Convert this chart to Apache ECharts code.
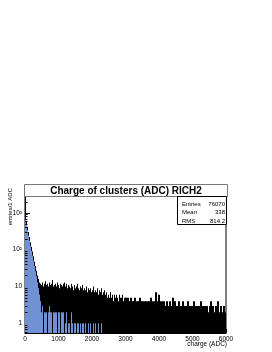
<!DOCTYPE html>
<html><head><meta charset="utf-8">
<script src="https://cdn.jsdelivr.net/npm/echarts@6/dist/echarts.min.js"></script>
<style>html,body{margin:0;padding:0;background:#fff}#c{width:272px;height:352px}</style>
</head><body><div id="c"></div>
<script>
// Histogram summarised per 30-ADC column: highest and lowest bin content in each column (0 = an empty bin)
const binWidth = 30;
const colMax = [
  900,600,420,300,220,160,120,90,66,48,36,27,20,16,13,12,11,13,10,12,
  14,11,12,10,13,11,12,15,10,11,12,10,13,11,9,12,11,10,12,13,
  10,12,9,11,10,9,12,10,8,11,9,10,12,9,8,10,9,11,8,9,
  8,10,7,9,8,9,7,8,10,7,8,7,9,6,8,7,9,6,7,8,
  6,7,5,6,5,7,5,6,4,6,5,6,5,4,6,5,5,6,4,5,
  5,4,5,4,4,5,3,4,4,5,4,3,4,4,5,3,4,4,3,4,
  4,3,4,4,3,5,4,3,4,3,7,4,3,6,4,3,4,3,4,3,
  3,4,3,3,4,3,3,5,3,4,3,3,3,4,3,3,3,4,3,3,
  3,3,4,3,3,2,3,3,4,3,3,3,2,3,3,4,3,2,3,3,
  2,3,2,2,3,4,2,3,2,2,3,2,4,2,2,3,2,2,3,2
];
const colMin = [
  700,480,340,240,175,125,92,68,50,36,26,19,13,9,6,4,2,3,0,2,
  2,2,0,2,3,2,2,0,2,2,2,2,0,2,2,0,2,2,2,0,
  1,2,0,1,1,0,2,1,0,1,1,0,1,1,0,1,0,1,1,0,
  1,0,0,1,0,1,0,0,1,0,1,0,0,1,0,0,1,0,0,0,
  0,0,0,0,0,0,0,0,0,0,0,0,0,0,0,0,0,0,0,0,
  0,0,0,0,0,0,0,0,0,0,0,0,0,0,0,0,0,0,0,0,
  0,0,0,0,0,0,0,0,0,0,0,0,0,0,0,0,0,0,0,0,
  0,0,0,0,0,0,0,0,0,0,0,0,0,0,0,0,0,0,0,0,
  0,0,0,0,0,0,0,0,0,0,0,0,0,0,0,0,0,0,0,0,
  0,0,0,0,0,0,0,0,0,0,0,0,0,0,0,0,0,0,0,0
];
const xMin = 0, xMax = 6000, xStep = 1000;
const yMin = 0.553, yMax = 5660;
const yTickValues = [1, 10, 100, 1000];
const yTickLabels = ['1', '10', '10\u00b2', '10\u00b3'];
const titleText = 'Charge of clusters (ADC) RICH2';
const statLabels = ['Entries', 'Mean', 'RMS'];
const statValues = ['76070', '338', '814.2'];
const xTitle = 'charge (ADC)';
const yTitle = 'entries/1 ADC';

const FONT = 'Liberation Sans, Arial, Helvetica, sans-serif';
const FILL = 'rgb(112,146,212)';

const histData = colMax.map((m, i) => [i * binWidth, colMin[i], m]);
const minorY = [];
for (let e = -1; e <= 3; e++) for (let k = 2; k <= 9; k++) {
  const v = k * Math.pow(10, e);
  if (v > yMin && v < yMax) minorY.push([0, v]);
}

const chart = echarts.init(document.getElementById('c'), null, {renderer: 'canvas'});
chart.setOption({
  animation: false,
  backgroundColor: '#fff',
  grid: {left: 25, right: 46, top: 185, bottom: 19, show: true, borderColor: '#000', borderWidth: 1, backgroundColor: 'transparent'},
  xAxis: {
    type: 'value', min: xMin, max: xMax, interval: xStep,
    axisLine: {show: true, onZero: false, lineStyle: {color: '#000', width: 1}},
    axisTick: {show: true, inside: true, length: 4, lineStyle: {color: '#000'}},
    minorTick: {show: true, splitNumber: 5, length: 2, lineStyle: {color: '#000'}},
    splitLine: {show: false},
    axisLabel: {fontSize: 6.5, color: '#000', fontFamily: FONT, margin: 3, formatter: function (v) { return String(v); }}
  },
  yAxis: {
    type: 'log', logBase: 10, min: yMin, max: yMax,
    axisLine: {show: true, lineStyle: {color: '#000', width: 1}},
    axisTick: {show: true, inside: true, length: 5, lineStyle: {color: '#000'}},
    splitLine: {show: false},
    axisLabel: {
      fontSize: 6.5, color: '#000', fontFamily: FONT, margin: 3,
      showMinLabel: false, showMaxLabel: false,
      formatter: function (v) {
        for (let i = 0; i < yTickValues.length; i++) {
          if (Math.abs(v - yTickValues[i]) / yTickValues[i] < 1e-6) return yTickLabels[i];
        }
        return '';
      }
    }
  },
  series: [
    {
      type: 'custom', data: histData, encode: {x: 0, y: 2}, clip: true, z: 2,
      renderItem: function (params, api) {
        const x0 = api.value(0), lo = api.value(1), hi = api.value(2);
        const cs = params.coordSys;
        const bottom = cs.y + cs.height;
        const p0 = api.coord([x0, hi]);
        const p1 = api.coord([x0 + binWidth, hi]);
        const yHi = p0[1];
        let yLo = lo > 0 ? api.coord([x0, lo])[1] : bottom;
        if (yLo - yHi < 1.5) yLo = Math.min(bottom, yHi + 1.5);
        const xl = Math.floor(p0[0]);
        const w = Math.max(1, Math.round(p1[0]) - xl);
        const children = [];
        if (lo > 0) children.push({type: 'rect', shape: {x: xl, y: yLo, width: w, height: bottom - yLo}, style: {fill: FILL}});
        children.push({type: 'rect', shape: {x: xl, y: yHi, width: w, height: yLo - yHi}, style: {fill: '#000'}});
        return {type: 'group', children: children};
      }
    },
    {
      type: 'custom', data: minorY, encode: {x: 0, y: 1}, z: 3, silent: true,
      renderItem: function (params, api) {
        const cs = params.coordSys;
        const y = Math.round(api.coord([0, api.value(1)])[1]) + 0.5;
        return {type: 'line', shape: {x1: cs.x, y1: y, x2: cs.x + 2.5, y2: y}, style: {stroke: '#000', lineWidth: 1}};
      }
    }
  ],
  graphic: [
    {type: 'rect', z: 10, shape: {x: 24.5, y: 184.5, width: 203, height: 12}, style: {fill: '#fff', stroke: '#777', lineWidth: 1}},
    {type: 'text', z: 11, x: 126, y: 191, style: {text: titleText, font: 'bold 10px ' + FONT, fill: '#000', align: 'center', verticalAlign: 'middle'}},
    {type: 'rect', z: 10, shape: {x: 177.5, y: 196.5, width: 49, height: 28}, style: {fill: '#fff', stroke: '#000', lineWidth: 1}},
    {type: 'text', z: 11, x: 182, y: 204, style: {text: statLabels[0], font: '6px ' + FONT, fill: '#000', verticalAlign: 'middle'}},
    {type: 'text', z: 11, x: 182, y: 212.5, style: {text: statLabels[1], font: '6px ' + FONT, fill: '#000', verticalAlign: 'middle'}},
    {type: 'text', z: 11, x: 182, y: 221, style: {text: statLabels[2], font: '6px ' + FONT, fill: '#000', verticalAlign: 'middle'}},
    {type: 'text', z: 11, x: 225, y: 204, style: {text: statValues[0], font: '6px ' + FONT, fill: '#000', align: 'right', verticalAlign: 'middle'}},
    {type: 'text', z: 11, x: 225, y: 212.5, style: {text: statValues[1], font: '6px ' + FONT, fill: '#000', align: 'right', verticalAlign: 'middle'}},
    {type: 'text', z: 11, x: 225, y: 221, style: {text: statValues[2], font: '6px ' + FONT, fill: '#000', align: 'right', verticalAlign: 'middle'}},
    {type: 'text', z: 11, x: 227, y: 344, style: {text: xTitle, font: '6.5px ' + FONT, fill: '#000', align: 'right', verticalAlign: 'middle'}},
    {type: 'text', z: 11, x: 10, y: 188, rotation: Math.PI / 2, style: {text: yTitle, font: '6px ' + FONT, fill: '#000', align: 'right', verticalAlign: 'middle'}}
  ]
});
</script>
</body></html>
